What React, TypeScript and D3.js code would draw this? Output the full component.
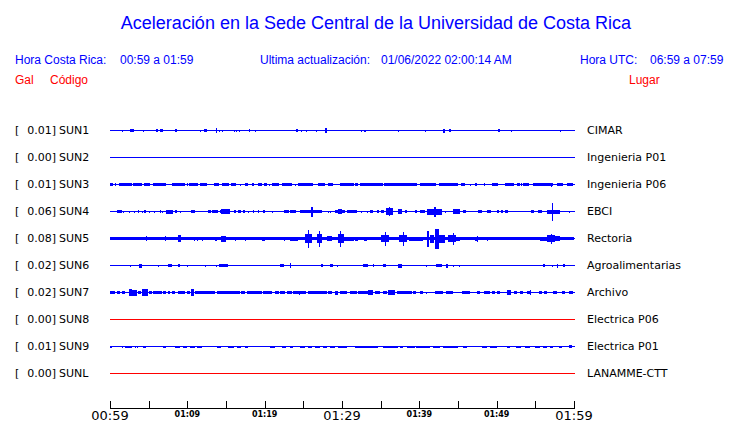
import React from "react";
import * as d3 from "d3";

const W = 740;
const H = 423;

const TITLE = "Aceleración en la Sede Central de la Universidad de Costa Rica";
const HEADER_LEFT = ["Hora Costa Rica:", "00:59 a 01:59"];
const HEADER_MID = ["Ultima actualización:", "01/06/2022 02:00:14 AM"];
const HEADER_RIGHT = ["Hora UTC:", "06:59 a 07:59"];
const COL_HEADERS = ["Gal", "Código", "Lugar"];

const CODES = ["SUN1", "SUN2", "SUN3", "SUN4", "SUN5", "SUN6", "SUN7", "SUN8", "SUN9", "SUNL"];
const PEAKS = ["0.01", "0.00", "0.01", "0.06", "0.08", "0.02", "0.02", "0.00", "0.01", "0.00"];
const PLACES = [
  "CIMAR", "Ingenieria P01", "Ingenieria P06", "EBCI", "Rectoria",
  "Agroalimentarias", "Archivo", "Electrica P06", "Electrica P01", "LANAMME-CTT",
];
const ACTIVE = [true, true, true, true, true, true, true, false, true, false];

// minutes after 00:59
const TICK_MINUTES = [0, 5, 10, 15, 20, 25, 30, 35, 40, 45, 50, 55, 60];
const MAJOR_LABELS = [0, 30, 60];
const MINOR_LABELS = [10, 20, 40, 50];

// [start minute, end minute, half amplitude]
type Burst = [number, number, number];

const SUN1: Burst[] = [
  [1.5, 1.5, 1], [2.6, 3.1, 1.3], [4.3, 4.3, 1], [6.0, 6.2, 1.3], [6.5, 6.8, 1.3], [8.45, 8.6, 1.3],
  [11.7, 11.7, 1], [12.2, 12.5, 1.3], [13.75, 13.9, 2.7], [14.1, 14.1, 1], [14.5, 14.5, 1],
  [16.0, 16.0, 1], [16.3, 16.3, 1], [16.7, 16.7, 1], [18.0, 18.1, 1.3], [18.8, 18.8, 1],
  [22.9, 22.9, 0.8], [24.1, 24.3, 1.3], [24.75, 24.75, 1], [25.4, 25.4, 1], [26.7, 26.7, 1],
  [27.8, 28.0, 2.5], [32.4, 32.4, 1], [32.8, 32.8, 1], [33.0, 33.0, 1], [35.6, 35.6, 0.8],
  [36.5, 36.5, 0.8], [37.3, 37.3, 1], [40.7, 40.7, 1], [43.1, 43.3, 2], [43.85, 44.1, 1.3],
  [50.2, 50.4, 1.3], [51.9, 51.9, 1], [57.2, 57.2, 0.8], [58.25, 58.25, 1],
];

const SUN2: Burst[] = [];

const SUN3: Burst[] = [
  [0, 0.4, 1.2], [1.1, 2.8, 1.2], [3.0, 4.1, 1.2], [4.4, 5.2, 1.2], [5.6, 7.3, 1.2], [8.0, 9.7, 1.2],
  [10.2, 11.4, 1.2], [11.6, 12.5, 1.2], [13.4, 14.1, 1.2], [14.5, 15.4, 1.2], [15.6, 16.3, 1.2],
  [17.5, 17.9, 1.2], [18.3, 18.6, 1.2], [19.1, 19.6, 1.2], [19.9, 20.3, 1.2], [21.0, 21.8, 1.2],
  [22.2, 23.5, 1.2], [24.3, 26.3, 1.2], [26.9, 27.8, 1.2], [28.2, 28.9, 1.2], [29.7, 31.5, 1.2],
  [31.7, 32.1, 1.2], [32.3, 35.3, 1.2], [35.4, 39.7, 1.2], [40.1, 42.2, 1.2], [42.5, 45.0, 1.2],
  [45.4, 45.9, 1.2], [47.2, 47.4, 1.2], [48.3, 48.5, 1.2], [49.4, 50.2, 1.2], [51.1, 52.2, 1.2],
  [52.6, 53.0, 1.2], [53.4, 54.2, 1.2], [54.7, 57.3, 1.2], [57.0, 57.1, 2], [57.8, 58.6, 1.2],
  [59.1, 59.9, 1.2], [0.7, 0.7, 1.5], [10.0, 10.0, 1.5], [16.8, 16.8, 1], [20.6, 20.6, 1],
  [23.9, 23.9, 1], [46.5, 46.5, 1], [53.2, 53.2, 1.5],
];

const SUN4: Burst[] = [
  [0.9, 1.5, 1.5], [1.7, 1.7, 1], [2.5, 2.5, 1], [3.1, 3.1, 1], [3.6, 3.8, 1.3], [4.1, 4.1, 1],
  [4.4, 4.6, 1.3], [5.0, 5.0, 1], [5.7, 5.7, 1], [6.5, 6.6, 1.3], [6.7, 6.7, 1], [7.3, 8.2, 2],
  [8.4, 8.6, 1.3], [9.1, 9.1, 1], [10.5, 11.0, 1.7], [12.7, 13.1, 1.3], [13.2, 14.0, 1.3],
  [14.2, 14.5, 1.3], [14.4, 15.5, 2.5], [16.0, 16.3, 1.3], [16.5, 16.9, 1.3], [17.2, 17.5, 1.3],
  [17.9, 17.9, 1], [18.5, 18.6, 1.3], [19.1, 19.3, 1.3], [19.8, 20.1, 1.3], [21.0, 21.0, 1],
  [22.5, 23.1, 1.7], [23.3, 24.0, 1.7], [24.6, 26.0, 1.7], [26.0, 26.2, 5], [26.3, 27.4, 1.7],
  [28.2, 28.2, 1], [28.5, 28.5, 1], [29.1, 29.5, 1.7], [29.5, 30.0, 2.7], [30.0, 30.4, 1.7],
  [30.7, 31.9, 1.3], [32.5, 32.5, 1], [33.2, 33.2, 1], [33.6, 34.0, 1.3], [34.5, 34.8, 1.3],
  [35.1, 35.4, 1.3], [35.7, 36.6, 3.3], [36.05, 36.15, 4.5], [37.2, 37.8, 2.7], [38.1, 38.4, 1.3],
  [39.4, 39.7, 1.3], [40.1, 40.7, 1.5], [41.0, 42.9, 3], [41.9, 42.1, 5], [43.3, 43.3, 1],
  [44.4, 45.2, 2.7], [45.7, 46.0, 1.3], [47.6, 48.1, 1.3], [48.8, 49.3, 1.3], [50.0, 50.3, 1.3],
  [50.5, 50.8, 1.3], [51.1, 51.5, 1.3], [54.4, 54.8, 1.3], [55.3, 55.8, 1.5], [56.5, 58.2, 2],
  [57.1, 57.3, 9], [59.3, 59.3, 1],
];

const SUN5: Burst[] = [
  [0, 60, 1.8], [4.65, 4.65, 2.7], [7.1, 7.1, 2.7], [8.8, 9.2, 3.3], [10.8, 10.8, 2], [11.3, 11.3, 2],
  [11.9, 11.9, 2], [13.6, 13.9, 2], [14.4, 15.0, 3], [16.1, 16.1, 2], [17.5, 17.5, 2], [19.7, 20.0, 2],
  [22.5, 22.5, 2], [23.3, 24.3, 2], [25.2, 26.1, 4.5], [25.6, 25.7, 9], [26.8, 27.4, 4.5],
  [27.05, 27.15, 8], [28.1, 28.7, 2.7], [29.5, 30.2, 4.5], [29.8, 29.9, 8], [30.3, 31.5, 2],
  [31.7, 32.1, 2], [32.8, 33.2, 2], [35.1, 36.1, 3.5], [35.55, 35.65, 7], [37.4, 38.4, 3.3],
  [37.9, 38.0, 7], [38.6, 40.5, 2], [41.0, 41.3, 8], [41.4, 41.9, 4], [42.0, 42.5, 10],
  [42.5, 43.3, 4], [43.7, 44.8, 3.5], [44.3, 44.4, 6], [44.8, 45.3, 2], [47.2, 47.6, 2],
  [47.4, 47.45, 3], [48.7, 48.9, 2], [55.6, 56.5, 2], [56.5, 57.5, 3.5], [57.0, 57.1, 5],
  [57.5, 58.2, 2.2],
];

const SUN6: Burst[] = [
  [2.6, 2.6, 1], [3.7, 4.2, 2], [6.2, 6.2, 1], [7.5, 8.0, 1.3], [8.8, 9.1, 1.7], [9.9, 9.9, 1],
  [12.3, 12.3, 1], [13.7, 13.7, 1], [14.1, 15.2, 1.3], [22.0, 22.5, 1.7], [23.3, 23.3, 2.7],
  [26.2, 26.2, 0.7], [27.3, 27.6, 1.3], [28.4, 28.9, 1.3], [29.4, 29.4, 1], [32.7, 33.4, 1.3],
  [34.0, 34.0, 1.7], [35.3, 35.7, 1.3], [37.2, 37.7, 2], [40.9, 40.9, 1], [42.2, 42.9, 1.5],
  [43.4, 43.7, 2], [44.3, 44.3, 1], [45.1, 45.1, 1], [51.0, 51.0, 0.7], [56.0, 56.3, 1.7],
  [57.2, 57.2, 1], [57.8, 57.8, 2], [58.6, 58.9, 1.3],
];

const SUN7: Burst[] = [
  [0, 0.6, 1.3], [0.9, 1.3, 1.3], [1.5, 1.9, 1.3], [2.4, 2.8, 3.3], [2.8, 3.5, 3], [3.6, 4.0, 1.3],
  [4.2, 4.9, 3.3], [5.0, 5.4, 1.3], [5.6, 6.7, 1.3], [6.9, 7.3, 1.3], [7.5, 7.8, 1.3], [8.0, 8.4, 1.3],
  [8.8, 9.7, 1.3], [9.9, 10.3, 1.3], [10.5, 10.8, 3.3], [11.0, 12.1, 1.3], [12.2, 13.6, 1.3],
  [13.8, 16.8, 1.3], [17.0, 17.5, 1.7], [17.7, 19.6, 1.3], [19.8, 20.9, 1.3], [21.3, 21.8, 1.3],
  [22.0, 22.6, 1.3], [22.9, 23.5, 1.3], [23.6, 25.4, 1.3], [24.4, 24.4, 2], [25.6, 28.0, 1.3],
  [28.2, 28.7, 1.3], [29.1, 29.5, 2], [29.7, 30.6, 1.3], [31.0, 31.9, 1.3], [32.1, 33.4, 1.3],
  [33.4, 34.0, 2.7], [34.3, 34.9, 1.3], [35.3, 35.8, 1.3], [36.0, 36.9, 2.7], [37.1, 39.0, 1.3],
  [39.2, 39.6, 1.3], [40.1, 40.5, 1.3], [40.9, 40.9, 1], [42.0, 43.1, 1.3], [43.5, 44.4, 1.3],
  [45.5, 46.6, 1.3], [47.4, 47.8, 1.3], [48.3, 49.1, 1.3], [49.4, 49.8, 1.3], [50.0, 50.4, 1.3],
  [51.3, 51.9, 2.7], [52.2, 52.6, 1.3], [53.0, 53.4, 1.3], [53.9, 54.5, 1.5], [54.35, 54.35, 2.7],
  [55.5, 55.8, 1.3], [56.1, 56.5, 1.3], [57.3, 57.8, 1.3], [58.4, 58.8, 1.3], [59.3, 59.9, 1.3],
];

const SUN8: Burst[] = [];

const SUN9: Burst[] = [
  [0, 0.3, 1], [1.5, 1.5, 1], [1.9, 2.8, 1], [3.2, 3.2, 1], [3.5, 3.5, 1], [4.0, 4.0, 0.8],
  [4.3, 4.7, 1], [5.5, 5.5, 0.8], [6.2, 6.2, 0.8], [6.9, 7.3, 1], [7.9, 7.9, 0.8], [8.4, 9.1, 1],
  [9.5, 9.9, 1], [10.3, 11.0, 1], [11.2, 11.9, 1], [12.3, 12.3, 0.8], [12.7, 12.7, 0.8],
  [13.8, 14.4, 1], [15.3, 16.0, 1], [16.4, 17.0, 1], [17.5, 17.9, 1], [18.5, 18.5, 0.8],
  [18.9, 18.9, 0.8], [19.7, 19.7, 0.8], [20.1, 20.1, 0.8], [20.7, 21.3, 1], [22.2, 22.8, 1],
  [23.3, 23.7, 1], [24.6, 25.2, 1], [25.6, 26.1, 1], [26.5, 27.2, 1], [27.6, 28.0, 1],
  [28.4, 29.1, 1], [29.5, 30.6, 1], [31.7, 34.7, 1], [35.3, 37.3, 1], [37.5, 37.9, 1],
  [38.4, 39.4, 1], [39.6, 41.4, 1], [41.8, 42.7, 1], [43.1, 45.0, 1], [45.7, 46.1, 1],
  [46.9, 46.9, 0.8], [47.3, 47.3, 0.8], [48.1, 48.7, 1], [49.1, 50.0, 1], [51.3, 51.7, 1],
  [52.5, 53.2, 1], [53.7, 54.3, 1], [55.0, 55.6, 1], [56.0, 56.5, 1], [56.9, 57.3, 1],
  [58.0, 58.4, 1], [59.3, 59.7, 1.3],
];

const SUNL: Burst[] = [];

const TRACES: Burst[][] = [SUN1, SUN2, SUN3, SUN4, SUN5, SUN6, SUN7, SUN8, SUN9, SUNL];

const BLUE = "#0000ff";
const RED = "#ff0000";
const SANS = "'Liberation Sans', Arial, Helvetica, sans-serif";
const DEJAVU = "'DejaVu Sans', sans-serif";

export default function App() {
  const x = d3.scaleLinear().domain([0, 60]).range([110, 574]);
  const y = d3.scalePoint<string>().domain(CODES).range([129.5, 373]);
  const amp = d3.scaleLinear().domain([-12, 12]).range([12, -12]);
  const start = new Date(2022, 0, 6, 0, 59);
  const fmt = d3.timeFormat("%H:%M");
  const label = (m: number) => fmt(d3.timeMinute.offset(start, m));
  const axisY = 408.5;

  return (
    <svg
      width={W}
      height={H}
      style={{ position: "absolute", left: 0, top: 0, background: "#fff" }}
    >
      <rect x={0} y={0} width={W} height={H} fill="#fff" />
      <text x={376} y={29} textAnchor="middle" fontFamily={SANS} fontSize={18} fill={BLUE}>
        {TITLE}
      </text>

      <g fontFamily={SANS} fontSize={12} fill={BLUE}>
        <text x={15} y={64}>{HEADER_LEFT[0]}</text>
        <text x={120} y={64}>{HEADER_LEFT[1]}</text>
        <text x={260} y={64}>{HEADER_MID[0]}</text>
        <text x={381} y={64}>{HEADER_MID[1]}</text>
        <text x={580} y={64}>{HEADER_RIGHT[0]}</text>
        <text x={650} y={64}>{HEADER_RIGHT[1]}</text>
      </g>
      <g fontFamily={SANS} fontSize={12} fill={RED}>
        <text x={15} y={84}>{COL_HEADERS[0]}</text>
        <text x={50} y={84}>{COL_HEADERS[1]}</text>
        <text x={629} y={84}>{COL_HEADERS[2]}</text>
      </g>

      {CODES.map((code, i) => {
        const y0 = Math.round(y(code)!) + 0.5;
        const color = ACTIVE[i] ? BLUE : RED;
        return (
          <g key={code}>
            <g fontFamily={DEJAVU} fontSize={11} fill="#000">
              <text x={15} y={y0 + 3.5}>[</text>
              <text x={56} y={y0 + 3.5} textAnchor="end">{PEAKS[i]}]</text>
              <text x={59} y={y0 + 3.5}>{code}</text>
              <text x={587} y={y0 + 3.5}>{PLACES[i]}</text>
            </g>
            <line
              x1={x(0)}
              x2={x(60) + 1}
              y1={y0}
              y2={y0}
              stroke={color}
              strokeWidth={1}
              shapeRendering="crispEdges"
            />
            {TRACES[i].map((b, j) => {
              const x0 = x(b[0]);
              const w = Math.max(1, x(b[1]) - x0);
              const top = y0 + amp(b[2]);
              const h = amp(-b[2]) - amp(b[2]);
              return (
                <rect
                  key={j}
                  x={x0}
                  y={top}
                  width={w}
                  height={h}
                  fill={color}
                  shapeRendering="crispEdges"
                />
              );
            })}
          </g>
        );
      })}

      <g>
        <line
          x1={x(0)}
          x2={x(60) + 1}
          y1={axisY}
          y2={axisY}
          stroke="#000"
          strokeWidth={1}
          shapeRendering="crispEdges"
        />
        {TICK_MINUTES.map((m) => (
          <line
            key={m}
            x1={Math.round(x(m)) + 0.5}
            x2={Math.round(x(m)) + 0.5}
            y1={axisY - 8}
            y2={axisY}
            stroke="#000"
            strokeWidth={1}
            shapeRendering="crispEdges"
          />
        ))}
        {MAJOR_LABELS.map((m) => (
          <text
            key={m}
            x={x(m)}
            y={420}
            textAnchor="middle"
            fontFamily={DEJAVU}
            fontSize={13}
            fill="#000"
          >
            {label(m)}
          </text>
        ))}
        {MINOR_LABELS.map((m) => (
          <text
            key={m}
            x={x(m)}
            y={417}
            textAnchor="middle"
            fontFamily={DEJAVU}
            fontWeight="bold"
            fontSize={8}
            fill="#000"
          >
            {label(m)}
          </text>
        ))}
      </g>
    </svg>
  );
}
